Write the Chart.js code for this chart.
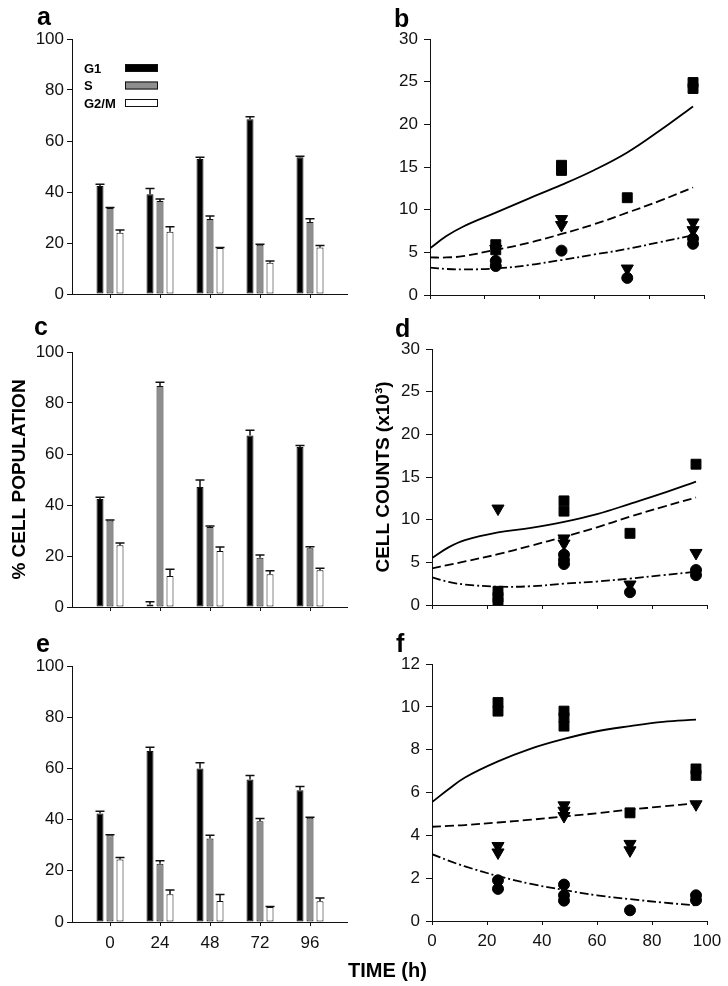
<!DOCTYPE html>
<html>
<head>
<meta charset="utf-8">
<script src="https://cdn.jsdelivr.net/npm/chart.js@4.4.1/dist/chart.umd.min.js"></script>
<style>
  body { margin: 0; background: #fff; }
  #fig { position: relative; width: 728px; height: 986px; font-family: "Liberation Sans", Arial, sans-serif; }
  canvas { position: absolute; }
  .letter { position: absolute; font-weight: bold; font-size: 25px; line-height: 25px; color: #000; }
  #timeLabel { position: absolute; left: 348px; top: 960px; font-weight: bold; font-size: 20px; line-height: 20px; color: #000; white-space: nowrap; }
</style>
</head>
<body>
<div id="fig">
  <canvas id="chartA" width="364" height="320" style="left:0;top:0"></canvas>
  <canvas id="chartB" width="364" height="320" style="left:364px;top:0"></canvas>
  <canvas id="chartC" width="364" height="310" style="left:0;top:320px"></canvas>
  <canvas id="chartD" width="364" height="310" style="left:364px;top:320px"></canvas>
  <canvas id="chartE" width="364" height="356" style="left:0;top:630px"></canvas>
  <canvas id="chartF" width="364" height="356" style="left:364px;top:630px"></canvas>
  <div class="letter" style="left:37px;top:4px">a</div>
  <div class="letter" style="left:394px;top:6px">b</div>
  <div class="letter" style="left:34px;top:314px">c</div>
  <div class="letter" style="left:395px;top:316px">d</div>
  <div class="letter" style="left:36px;top:631px">e</div>
  <div class="letter" style="left:396px;top:631px">f</div>
  <div id="timeLabel">TIME (h)</div>
</div>
<script>
// ---- cell cycle phases (bar panels a, c, e) ----
const timePoints = [0, 24, 48, 72, 96];
const phaseNames = ['G1', 'S', 'G2/M'];
const phaseColors = ['#000000', '#8e8e8e', '#ffffff'];

const aG1 = [42.4, 39.1, 52.9, 68.5, 53.6];
const aG1Err = [0.6, 2.3, 0.7, 1.0, 0.4];
const aS = [33.7, 36.5, 29.4, 19.3, 28.2];
const aSErr = [0.2, 0.8, 1.2, 0.2, 1.3];
const aG2M = [24.0, 24.4, 18.0, 12.3, 18.2];
const aG2MErr = [1.1, 2.0, 0.2, 0.6, 0.8];

const cG1 = [42.4, 1.0, 47.1, 67.3, 62.7];
const cG1Err = [0.6, 1.1, 2.7, 2.0, 0.6];
const cS = [33.9, 86.7, 31.4, 19.3, 23.0];
const cSErr = [0.2, 1.4, 0.4, 1.1, 0.6];
const cG2M = [24.2, 12.2, 22.0, 12.8, 14.4];
const cG2MErr = [0.9, 2.6, 1.5, 1.4, 0.8];

const eG1 = [42.4, 66.8, 60.0, 55.7, 51.5];
const eG1Err = [0.9, 1.5, 2.2, 1.5, 1.4];
const eS = [33.9, 22.8, 32.6, 39.4, 40.7];
const eSErr = [0.2, 1.1, 1.3, 1.0, 0.2];
const eG2M = [24.4, 10.8, 8.2, 5.9, 8.1];
const eG2MErr = [0.8, 1.7, 2.5, 0.2, 1.3];

// ---- cell counts (panels b, d, f): fitted curves + replicate points ----
const fitTimes = [0, 6, 12, 24, 36, 48, 60, 72, 84, 96];

const bSolid = [5.47, 6.9, 8.0, 9.65, 11.3, 12.9, 14.65, 16.7, 19.3, 22.1];
const bDashed = [4.4, 4.4, 4.55, 5.3, 6.1, 7.15, 8.3, 9.65, 11.05, 12.6];
const bDashDot = [3.2, 3.05, 3.0, 3.1, 3.5, 4.1, 4.75, 5.4, 6.2, 7.0];
const bSquareX = [24, 24, 48, 48, 72, 96, 96];
const bSquareY = [5.9, 5.3, 15.2, 14.6, 11.4, 24.9, 24.2];
const bTriX = [24, 48, 48, 72, 96, 96];
const bTriY = [5.4, 8.9, 8.2, 3.1, 8.5, 7.6];
const bCircleX = [24, 24, 48, 72, 96, 96];
const bCircleY = [4.0, 3.4, 5.2, 2.0, 6.6, 6.0];

const dSolid = [5.5, 6.75, 7.6, 8.5, 9.05, 9.75, 10.65, 11.85, 13.1, 14.45];
const dDashed = [4.3, 4.7, 5.1, 5.95, 6.95, 8.0, 9.1, 10.35, 11.5, 12.6];
const dDashDot = [3.25, 2.7, 2.4, 2.15, 2.2, 2.5, 2.75, 3.1, 3.5, 3.9];
const dSquareX = [24, 24, 24, 48, 48, 72, 96];
const dSquareY = [1.6, 0.9, 0.3, 12.2, 11.0, 8.4, 16.5];
const dTriX = [24, 48, 48, 72, 96];
const dTriY = [11.3, 7.8, 7.2, 2.4, 6.1];
const dCircleX = [48, 48, 48, 72, 96, 96];
const dCircleY = [5.9, 5.3, 4.8, 1.5, 4.1, 3.5];

const fSolid = [5.55, 6.15, 6.7, 7.45, 8.05, 8.5, 8.86, 9.1, 9.3, 9.4];
const fDashed = [4.4, 4.44, 4.48, 4.6, 4.73, 4.88, 5.03, 5.2, 5.35, 5.5];
const fDashDot = [3.12, 2.82, 2.55, 2.1, 1.73, 1.45, 1.2, 1.02, 0.86, 0.73];
const fSquareX = [24, 24, 48, 48, 48, 72, 96, 96];
const fSquareY = [10.2, 9.8, 9.8, 9.5, 9.1, 5.05, 7.1, 6.8];
const fTriX = [24, 24, 48, 48, 48, 72, 72, 96];
const fTriY = [3.5, 3.2, 5.4, 5.15, 4.9, 3.6, 3.3, 5.45];
const fCircleX = [24, 24, 48, 48, 48, 72, 96, 96];
const fCircleY = [1.9, 1.5, 1.7, 1.2, 0.95, 0.5, 1.2, 0.97];

const fontFamily = '"Liberation Sans", Arial, sans-serif';
const ink = '#111';

// one-sided (upward) error bars on top of each bar
const errorBars = {
    id: 'errorBars',
    afterDatasetsDraw(chart) {
        const ctx = chart.ctx;
        const yScale = chart.scales.y;
        chart.data.datasets.forEach((ds, i) => {
            if (!ds.errors) return;
            chart.getDatasetMeta(i).data.forEach((bar, j) => {
                const top = yScale.getPixelForValue(ds.data[j].y + ds.errors[j]);
                const half = bar.width / 2 + 1;
                ctx.save();
                ctx.strokeStyle = ink;
                ctx.lineWidth = 1.5;
                ctx.beginPath();
                ctx.moveTo(bar.x, bar.y);
                ctx.lineTo(bar.x, top);
                ctx.moveTo(bar.x - half, top);
                ctx.lineTo(bar.x + half, top);
                ctx.stroke();
                ctx.restore();
            });
        });
    }
};

// legend with the label first and the swatch after it
const phaseLegend = {
    id: 'phaseLegend',
    afterDraw(chart, args, opts) {
        if (!opts.show) return;
        const ctx = chart.ctx;
        ctx.save();
        ctx.font = 'bold 13px ' + fontFamily;
        ctx.textBaseline = 'middle';
        chart.data.datasets.forEach((ds, i) => {
            const y = opts.top + i * opts.rowGap;
            ctx.fillStyle = '#000';
            ctx.fillText(ds.label, opts.textX, y + 1);
            ctx.fillStyle = ds.backgroundColor;
            ctx.fillRect(opts.boxX, y - 4, opts.boxW, 8);
            ctx.strokeStyle = ink;
            ctx.lineWidth = 1;
            ctx.strokeRect(opts.boxX + 0.5, y - 3.5, opts.boxW - 1, 7);
        });
        ctx.restore();
    }
};

function makeBarChart(canvasId, series, errors, box, showTimes, yTitle, withLegend) {
    const datasets = phaseNames.map((name, k) => ({
        label: name,
        data: timePoints.map((t, i) => ({ x: t, y: series[k][i] })),
        errors: errors[k],
        backgroundColor: phaseColors[k],
        borderColor: ink,
        borderWidth: 1,
        borderSkipped: false,
        categoryPercentage: 0.6,
        barPercentage: 0.7
    }));

    new Chart(document.getElementById(canvasId), {
        type: 'bar',
        data: { datasets: datasets },
        plugins: [errorBars, phaseLegend],
        options: {
            responsive: false,
            animation: false,
            events: [],
            layout: { padding: { left: 0, top: box.top, right: box.right, bottom: 0 } },
            plugins: {
                legend: { display: false },
                tooltip: { enabled: false },
                phaseLegend: { show: withLegend, top: 68, rowGap: 17.5, textX: 84, boxX: 125, boxW: 33 }
            },
            scales: {
                x: {
                    type: 'linear',
                    min: -18.24,
                    max: 113.76,
                    offset: false,
                    afterBuildTicks: s => { s.ticks = timePoints.map(v => ({ value: v })); },
                    afterFit: s => { s.height = box.xHeight; },
                    grid: { offset: false, drawOnChartArea: false, drawTicks: true, tickLength: 4, color: ink },
                    border: { display: true, color: ink, width: 1 },
                    ticks: { display: showTimes, padding: 7, color: ink, font: { family: fontFamily, size: 17 } }
                },
                y: {
                    min: 0,
                    max: 100,
                    afterFit: s => { s.width = box.yWidth; },
                    grid: { drawOnChartArea: false, drawTicks: true, tickLength: 5, color: ink },
                    border: { display: true, color: ink, width: 1 },
                    ticks: { stepSize: 20, padding: 3, color: ink, font: { family: fontFamily, size: 17 } },
                    title: {
                        display: !!yTitle,
                        text: yTitle || '',
                        color: '#000',
                        padding: { top: 8, bottom: 0 },
                        font: { family: fontFamily, size: 19, weight: 'bold' }
                    }
                }
            }
        }
    });
}

function makeCountChart(canvasId, fits, obs, box, yMax, yStep, showTimes, yTitle) {
    const markerStyles = [
        { pointStyle: 'rect', pointRadius: 7, rotation: 0 },
        { pointStyle: 'triangle', pointRadius: 7, rotation: 180 },
        { pointStyle: 'circle', pointRadius: 5.5, rotation: 0 }
    ];
    const dashes = [[], [9, 4], [9, 3, 2, 3]];

    const markerSets = obs.map((o, k) => ({
        data: o.x.map((t, i) => ({ x: t, y: o.y[i] })),
        pointStyle: markerStyles[k].pointStyle,
        pointRadius: markerStyles[k].pointRadius,
        rotation: markerStyles[k].rotation,
        backgroundColor: '#000',
        borderColor: '#000',
        borderWidth: 1,
        showLine: false
    }));
    const fitSets = fits.map((vals, k) => ({
        data: fitTimes.map((t, i) => ({ x: t, y: vals[i] })),
        showLine: true,
        borderColor: '#000',
        borderWidth: 1.8,
        borderDash: dashes[k],
        pointRadius: 0,
        fill: false,
        tension: 0.4
    }));

    new Chart(document.getElementById(canvasId), {
        type: 'scatter',
        data: { datasets: markerSets.concat(fitSets) },
        options: {
            responsive: false,
            animation: false,
            events: [],
            layout: { padding: { left: 0, top: box.top, right: box.right, bottom: 0 } },
            plugins: { legend: { display: false }, tooltip: { enabled: false } },
            scales: {
                x: {
                    type: 'linear',
                    min: 0,
                    max: 100,
                    afterFit: s => { s.height = box.xHeight; },
                    grid: { drawOnChartArea: false, drawTicks: true, tickLength: 4, color: ink },
                    border: { display: true, color: ink, width: 1 },
                    ticks: { display: showTimes, stepSize: 20, padding: 6, color: ink, font: { family: fontFamily, size: 17 } }
                },
                y: {
                    min: 0,
                    max: yMax,
                    afterFit: s => { s.width = box.yWidth; },
                    grid: { drawOnChartArea: false, drawTicks: true, tickLength: 6, color: ink },
                    border: { display: true, color: ink, width: 1 },
                    ticks: { stepSize: yStep, padding: 6, color: ink, font: { family: fontFamily, size: 17 } },
                    title: {
                        display: !!yTitle,
                        text: yTitle || '',
                        color: '#000',
                        padding: { top: 8, bottom: 0 },
                        font: { family: fontFamily, size: 19, weight: 'bold' }
                    }
                }
            }
        }
    });
}

makeBarChart('chartA', [aG1, aS, aG2M], [aG1Err, aSErr, aG2MErr],
    { top: 39, right: 17, yWidth: 72, xHeight: 26 }, false, null, true);
makeBarChart('chartC', [cG1, cS, cG2M], [cG1Err, cSErr, cG2MErr],
    { top: 32, right: 17, yWidth: 72, xHeight: 23 }, false, '% CELL POPULATION', false);
makeBarChart('chartE', [eG1, eS, eG2M], [eG1Err, eSErr, eG2MErr],
    { top: 36, right: 17, yWidth: 72, xHeight: 64 }, true, null, false);

makeCountChart('chartB', [bSolid, bDashed, bDashDot],
    [{ x: bSquareX, y: bSquareY }, { x: bTriX, y: bTriY }, { x: bCircleX, y: bCircleY }],
    { top: 39, right: 24, yWidth: 66, xHeight: 25 }, 30, 5, false, null);
makeCountChart('chartD', [dSolid, dDashed, dDashDot],
    [{ x: dSquareX, y: dSquareY }, { x: dTriX, y: dTriY }, { x: dCircleX, y: dCircleY }],
    { top: 29, right: 21, yWidth: 68, xHeight: 25 }, 30, 5, false, 'CELL COUNTS (x10\u00b3)');
makeCountChart('chartF', [fSolid, fDashed, fDashDot],
    [{ x: fSquareX, y: fSquareY }, { x: fTriX, y: fTriY }, { x: fCircleX, y: fCircleY }],
    { top: 34, right: 21, yWidth: 68, xHeight: 65 }, 12, 2, true, null);
</script>
</body>
</html>
